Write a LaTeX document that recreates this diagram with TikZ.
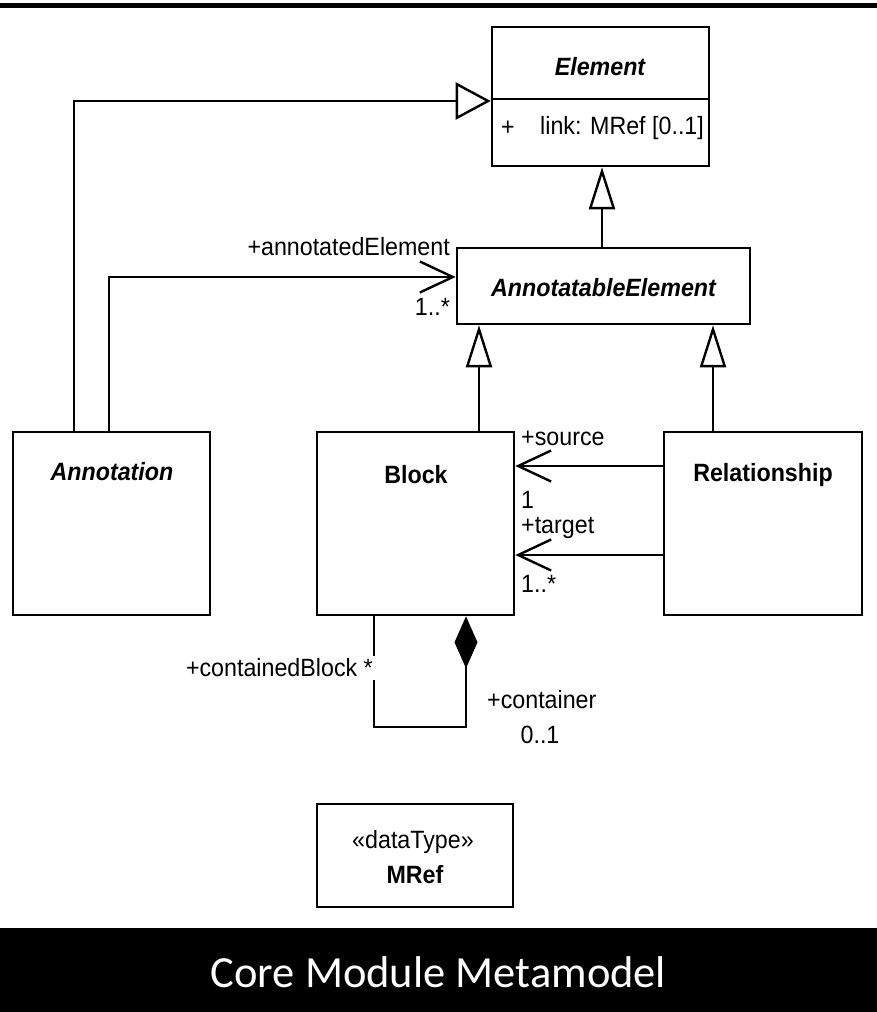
\documentclass[tikz,border=0pt]{standalone}
\usepackage{fontspec}
\setmainfont{Liberation Sans}[FakeStretch=0.93]
\newfontfamily\titlefont{Carlito}
\usetikzlibrary{arrows.meta}

\tikzset{
  x=1pt, y=-1pt,
  every node/.style={font=\fontsize{25}{29}\selectfont, inner sep=0pt},
  umlbox/.style={draw, line width=2.6pt, fill=white, rectangle},
  conn/.style={line width=2.4pt, line join=miter},
  genh/.style={conn, -{Triangle[open, length=35pt, width=37pt, fill=white]}},
  genv/.style={conn, -{Triangle[open, length=42pt, width=26pt, fill=white]}},
  assoc/.style={conn, -{Straight Barb[length=33pt, width=31pt]}},
  compo/.style={conn, -{Diamond[length=52pt, width=23pt, fill=black]}},
  cname/.style={font=\fontsize{25}{29}\selectfont\bfseries},
  aname/.style={font=\fontsize{25}{29}\selectfont\bfseries\itshape},
  role/.style={font=\fontsize{25}{29}\selectfont},
}

\begin{document}
\begin{tikzpicture}
\useasboundingbox (0,0) rectangle (877,1012);
\fill[white] (0,0) rectangle (877,1012);

% top rule and caption band
\fill[black] (0,2.5) rectangle (877,7.5);
\fill[black] (0,928) rectangle (877,1012);
\node[text=white, font=\titlefont\fontsize{44.5}{50}\selectfont] (title) at (438.5,972) {Core Module Metamodel};

% classes
\node[umlbox, minimum width=217pt, minimum height=139pt] (element) at (600.5,96.5) {};
\node[umlbox, minimum width=293pt, minimum height=76pt] (annotEl) at (603.5,286) {};
\node[umlbox, minimum width=197pt, minimum height=183pt] (annotation) at (111.5,523.5) {};
\node[umlbox, minimum width=197pt, minimum height=183pt] (block) at (415.5,523.5) {};
\node[umlbox, minimum width=198pt, minimum height=183pt] (relationship) at (763,523.5) {};
\node[umlbox, minimum width=196pt, minimum height=103pt] (mref) at (415,855.5) {};

% compartment divider of Element
\coordinate (div) at (0,99);
\draw[line width=2.6pt] (element.west |- div) -- (element.east |- div);

% class names and attributes
\node[aname] (elementName) at (600,67) {Element};
\node[role] (attrVis) at (508,128) {+};
\node[role, anchor=west] (attr) at (540,128) {link: MRef [0..1]};
\node[aname] (annotElName) at (603.5,288) {AnnotatableElement};
\node[aname] (annotationName) at (112,472) {Annotation};
\node[cname] (blockName) at (416,475) {Block};
\node[cname] (relName) at (763,475) {Relationship};
\node[role] (stereo) at (413,842) {«dataType»};
\node[cname] (mrefName) at (415,875) {MRef};

% generalizations
\coordinate (g1) at (74,101);
\draw[genh] (annotation.north -| g1) -- (g1) -- (element.west |- g1);
\coordinate (g2) at (602,0);
\draw[genv] (annotEl.north -| g2) -- (element.south -| g2);
\coordinate (g3) at (479,0);
\draw[genv] (block.north -| g3) -- (annotEl.south -| g3);
\coordinate (g4) at (713,0);
\draw[genv] (relationship.north -| g4) -- (annotEl.south -| g4);

% associations
\coordinate (a1) at (109,277);
\draw[assoc] (annotation.north -| a1) -- (a1) -- (annotEl.west |- a1);
\coordinate (s1) at (0,466);
\draw[assoc] (relationship.west |- s1) -- (block.east |- s1);
\coordinate (t1) at (0,555);
\draw[assoc] (relationship.west |- t1) -- (block.east |- t1);

% composition of blocks
\coordinate (c1) at (374,727);
\coordinate (c2) at (466,727);
\draw[compo] (block.south -| c1) -- (c1) -- (c2) -- (block.south -| c2);

% association end labels
\node[role, anchor=east] (lblAnnotated) at (450,247) {+annotatedElement};
\node[role, anchor=east] (lblAnnotatedMult) at (450,307) {1..*};
\node[role, anchor=west] (lblSource) at (521,438) {+source};
\node[role, anchor=west] (lblSourceMult) at (521,500) {1};
\node[role, anchor=west] (lblTarget) at (521,528) {+target};
\node[role, anchor=west] (lblTargetMult) at (521,584) {1..*};
\node[role, anchor=east, fill=white, inner xsep=3pt, inner ysep=3pt] (lblContained) at (376,668) {+containedBlock *};
\node[role, anchor=west] (lblContainer) at (487,700) {+container};
\node[role] (lblContainerMult) at (540,735) {0..1};
\end{tikzpicture}
\end{document}
